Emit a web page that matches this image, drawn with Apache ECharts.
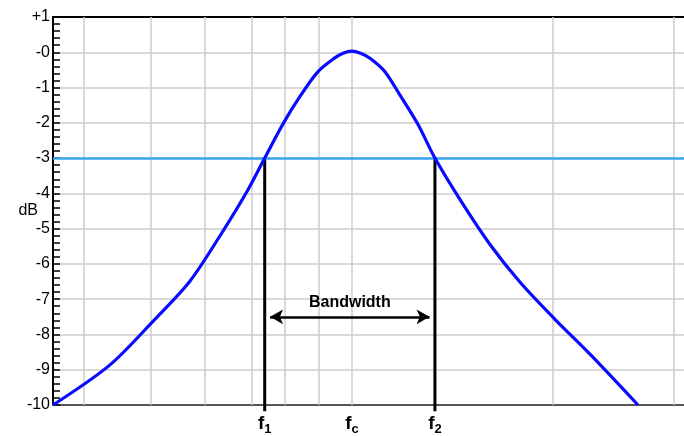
<!DOCTYPE html>
<html>
<head>
<meta charset="utf-8">
<title>Bandwidth</title>
<script src="https://cdn.jsdelivr.net/npm/echarts@6/dist/echarts.min.js"></script>
<style>
html, body { margin: 0; padding: 0; background: #fff; }
#chart { width: 684px; height: 436px; }
</style>
</head>
<body>
<div id="chart"></div>
<script>
// response curve, frequency relative to fc = 10 (log scale)
const freq = [3.58, 4.35, 5.08, 5.73, 6.40, 7.00, 7.41, 7.88, 8.36, 8.90, 9.43, 9.72, 10.0,
              10.30, 10.64, 11.20, 11.79, 12.55, 13.30, 14.50, 16.07, 17.82, 20.09, 22.66, 26.72]
const gain = [-10, -8.87, -7.57, -6.49, -5.11, -3.89, -3, -2.05, -1.26, -0.55, -0.16, -0.02, 0.03,
              -0.03, -0.17, -0.55, -1.21, -2.05, -3, -4.18, -5.45, -6.52, -7.57, -8.56, -10]

const gridFreqs = [4, 5, 6, 7, 8, 9, 10, 20, 30]
const bandFreqs = [7.41, 10, 13.3]   // f1, fc, f2
const bandSubs = ['1', 'c', '2']
const xRange = [3.58, 31.3]
const yRange = [-10, 1]
const cutoff = -3
const arrowLevel = -7.5

const lg = v => Math.log10(v)

const chart = echarts.init(document.getElementById('chart'))

const option = {
    animation: false,
    backgroundColor: '#fff',
    textStyle: { fontFamily: 'Liberation Sans, Arial, sans-serif' },
    grid: { left: 53, right: 0, top: 17, bottom: 30 },
    xAxis: [
        {
            type: 'value',
            min: lg(xRange[0]),
            max: lg(xRange[1]),
            axisLine: { onZero: false, lineStyle: { color: '#555', width: 2 } },
            axisTick: { show: false },
            splitLine: { show: false },
            axisLabel: {
                customValues: bandFreqs.map(lg),
                margin: 9,
                formatter: v => {
                    const i = bandFreqs.findIndex(f => Math.abs(lg(f) - v) < 1e-6)
                    return i < 0 ? '' : '{f|f}{s|' + bandSubs[i] + '}'
                },
                rich: {
                    f: { fontSize: 19, fontWeight: 'bold', color: '#000', lineHeight: 22, verticalAlign: 'top' },
                    s: { fontSize: 13, fontWeight: 'bold', color: '#000', lineHeight: 22, verticalAlign: 'bottom' }
                }
            }
        },
        {
            type: 'value',
            position: 'top',
            min: lg(xRange[0]),
            max: lg(xRange[1]),
            axisLine: { show: true, onZero: false, lineStyle: { color: '#000', width: 2 } },
            axisTick: { show: false },
            axisLabel: { show: false },
            splitLine: { show: false }
        }
    ],
    yAxis: {
        type: 'value',
        min: yRange[0],
        max: yRange[1],
        interval: 1,
        name: 'dB',
        nameLocation: 'middle',
        nameRotate: 0,
        nameGap: 15,
        nameMoveOverlap: false,
        nameTextStyle: { color: '#000', fontSize: 16 },
        axisLine: { show: true, lineStyle: { color: '#000', width: 2 } },
        axisTick: { show: true, inside: true, length: 7, lineStyle: { color: '#000', width: 1.5 } },
        minorTick: { show: true, splitNumber: 5, length: 7, lineStyle: { color: '#000', width: 1.5 } },
        splitLine: { lineStyle: { color: '#cccccc', width: 1.5 } },
        axisLabel: {
            color: '#000',
            fontSize: 16,
            margin: 3,
            formatter: v => v > 0 ? '+' + v : (v === 0 ? '-0' : String(v))
        }
    },
    series: [
        {
            // vertical grid lines
            type: 'line',
            data: [],
            z: 1,
            markLine: {
                silent: true,
                symbol: ['none', 'none'],
                label: { show: false },
                lineStyle: { color: '#cccccc', width: 1.5, type: 'solid' },
                data: gridFreqs.map(f => ({ xAxis: lg(f) }))
            }
        },
        {
            // -3 dB level
            type: 'line',
            data: [],
            z: 3,
            markLine: {
                silent: true,
                symbol: ['none', 'none'],
                label: { show: false },
                lineStyle: { color: '#3aa6f2', width: 2.5, type: 'solid' },
                data: [{ yAxis: cutoff }]
            }
        },
        {
            // f1 / f2 drop lines
            type: 'line',
            z: 4,
            symbol: 'none',
            clip: false,
            lineStyle: { color: '#000', width: 3 },
            data: [
                [lg(bandFreqs[0]), cutoff], [lg(bandFreqs[0]), yRange[0] - 0.18], null,
                [lg(bandFreqs[2]), cutoff], [lg(bandFreqs[2]), yRange[0] - 0.18]
            ],
            connectNulls: false
        },
        {
            // response curve
            type: 'line',
            z: 5,
            symbol: 'none',
            smooth: 0.3,
            lineStyle: { color: '#0a0aff', width: 3.2 },
            data: freq.map((f, i) => [lg(f), gain[i]])
        },
        {
            // bandwidth arrow
            type: 'line',
            data: [],
            z: 6,
            markLine: {
                silent: true,
                symbol: ['arrow', 'arrow'],
                symbolSize: [11, 13],
                lineStyle: { color: '#000', width: 2.5, type: 'solid' },
                label: {
                    show: true,
                    position: 'insideMiddleTop',
                    distance: 6,
                    formatter: 'Bandwidth',
                    color: '#000',
                    fontSize: 16,
                    fontWeight: 'bold'
                },
                data: [[
                    { coord: [lg(bandFreqs[0]) + 0.008, arrowLevel] },
                    { coord: [lg(bandFreqs[2]) - 0.008, arrowLevel] }
                ]]
            }
        }
    ]
}

chart.setOption(option)
</script>
</body>
</html>
